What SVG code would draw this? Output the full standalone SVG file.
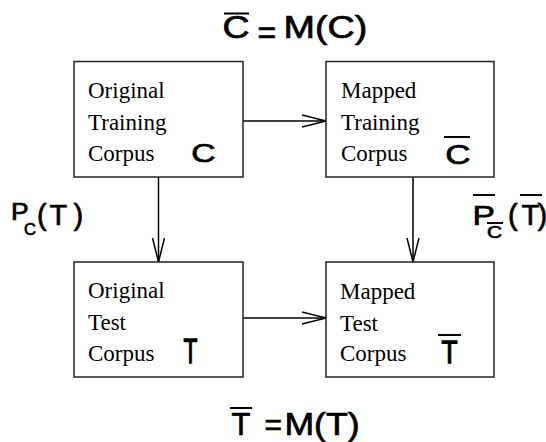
<svg xmlns="http://www.w3.org/2000/svg" width="546" height="442" viewBox="0 0 546 442">
<style>
.box{fill:#fff;stroke:#222;stroke-width:1.5}
.t{font-family:"Liberation Serif","Times New Roman",serif;font-size:23px;fill:#000}
.m{font-family:"Liberation Sans",Arial,sans-serif;fill:#000;stroke:#000;stroke-width:0.7}
.mt{stroke-width:1.3}
.ov{stroke:#000;stroke-width:2}
.conn{stroke:#000;stroke-width:1.5;fill:none}
</style>
<defs>
<marker id="ah" markerUnits="userSpaceOnUse" markerWidth="30" markerHeight="16" refX="24" refY="7" orient="auto" overflow="visible">
<path d="M0,1 L24,7 L0,13" fill="none" stroke="#000" stroke-width="1.5"/>
</marker>
</defs>
<rect width="546" height="442" fill="#fff"/>

<g id="title-top">
<line class="ov" x1="224" y1="13.5" x2="249" y2="13.5"/>
<text class="m" font-size="32" transform="translate(222.5,38) scale(1.17,1)">C</text>
<text class="m" font-size="32" x="257.5" y="43">=</text>
<text class="m" font-size="32" transform="translate(283.5,38) scale(1.18,1)">M(C)</text>
</g>

<g id="title-bottom">
<line class="ov" x1="230" y1="408" x2="252" y2="408"/>
<text class="m" font-size="31" x="231.5" y="435">T</text>
<text class="m" font-size="30" x="264.5" y="435">=</text>
<text class="m" font-size="31" transform="translate(284.4,435) scale(1.15,1)">M(T)</text>
</g>

<g id="label-left">
<text class="m" font-size="24" transform="translate(10.9,220) scale(1.1,1)">P</text>
<text class="m" font-size="16.5" x="24" y="235">C</text>
<text class="m" font-size="29" x="37 49.4 73.4" y="225">(T)</text>
</g>

<g id="label-right">
<line class="ov" x1="473" y1="195" x2="495" y2="195"/>
<text class="m" font-size="28" transform="translate(472.5,225) scale(1.2,1)">P</text>
<line class="ov" x1="487" y1="223" x2="503" y2="223"/>
<text class="m" font-size="16" transform="translate(487,238) scale(1.3,1)">C</text>
<line class="ov" x1="520" y1="195" x2="542" y2="195"/>
<text class="m" font-size="29" x="508 521.4 537.4" y="225">(T)</text>
</g>

<g id="connectors">
<line class="conn" x1="243" y1="121" x2="326" y2="121" marker-end="url(#ah)"/>
<line class="conn" x1="243" y1="318" x2="326" y2="318" marker-end="url(#ah)"/>
<line class="conn" x1="158.5" y1="177" x2="158.5" y2="262" marker-end="url(#ah)"/>
<line class="conn" x1="413" y1="177" x2="413" y2="262" marker-end="url(#ah)"/>
</g>

<g id="node-orig-train">
<rect class="box" x="74" y="61.5" width="169" height="115.5"/>
<text class="t" x="88" y="98">Original</text>
<text class="t" x="88" y="130">Training</text>
<text class="t" x="88" y="161">Corpus</text>
<text class="m" font-size="26" transform="translate(191.3,162) scale(1.3,1)">C</text>
</g>

<g id="node-mapped-train">
<rect class="box" x="326" y="61.5" width="168" height="115.5"/>
<text class="t" x="341" y="98">Mapped</text>
<text class="t" x="341" y="130">Training</text>
<text class="t" x="341" y="161">Corpus</text>
<line class="ov" x1="444" y1="137" x2="470" y2="137"/>
<text class="m" font-size="28" transform="translate(445.2,164) scale(1.25,1)">C</text>
</g>

<g id="node-orig-test">
<rect class="box" x="74" y="262" width="169" height="115"/>
<text class="t" x="88" y="298">Original</text>
<text class="t" x="88" y="330">Test</text>
<text class="t" x="88" y="361">Corpus</text>
<text class="m mt" font-size="35" transform="translate(183.5,363) scale(0.65,1)">T</text>
</g>

<g id="node-mapped-test">
<rect class="box" x="326" y="262" width="168" height="115"/>
<text class="t" x="340" y="299">Mapped</text>
<text class="t" x="340" y="331">Test</text>
<text class="t" x="340" y="361">Corpus</text>
<line class="ov" x1="438" y1="335" x2="461" y2="335"/>
<text class="m mt" font-size="32" transform="translate(441.5,363) scale(0.82,1)">T</text>
</g>
</svg>
